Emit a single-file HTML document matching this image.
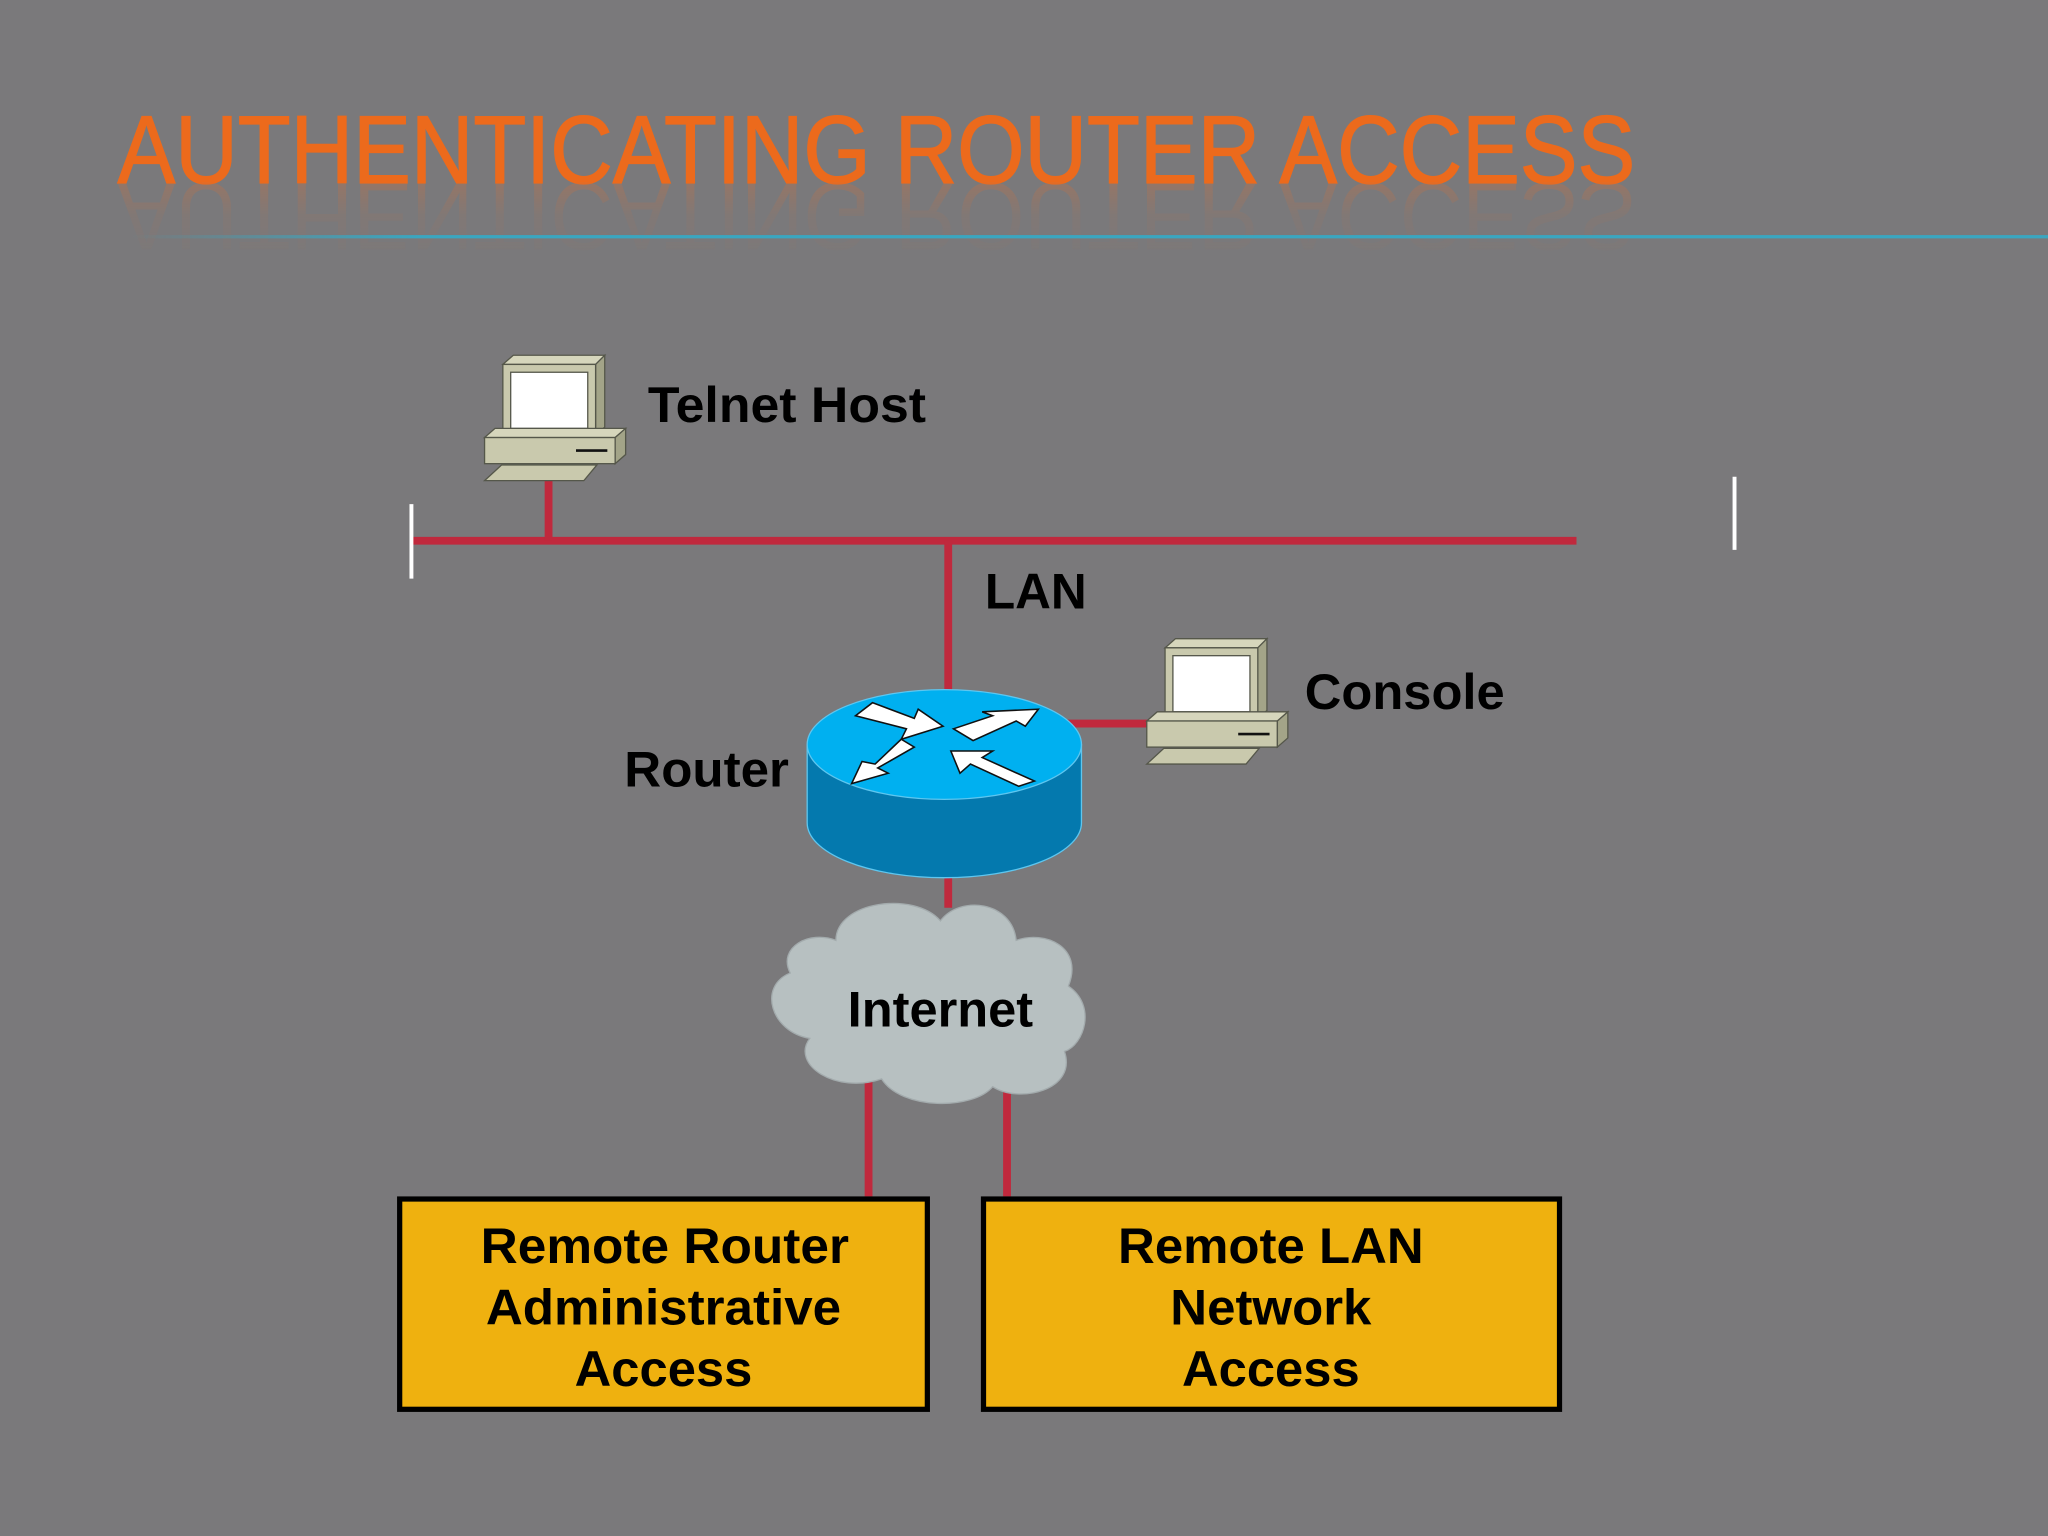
<!DOCTYPE html>
<html><head><meta charset="utf-8"><style>
html,body{margin:0;padding:0;background:#7a797b;}
svg{display:block;}
</style></head><body>
<svg width="2048" height="1536" viewBox="0 0 1568 1176" xmlns="http://www.w3.org/2000/svg">
<defs>
<linearGradient id="refl" x1="0" y1="0" x2="0" y2="1">
<stop offset="0" stop-color="#d2703a" stop-opacity="0"/><stop offset="0.5" stop-color="#d2703a" stop-opacity="0.15"/><stop offset="1" stop-color="#d2703a" stop-opacity="0.8"/></linearGradient>
<linearGradient id="teal" x1="0" y1="0" x2="1" y2="0">
<stop offset="0" stop-color="#3aa6c0" stop-opacity="0"/><stop offset="0.15" stop-color="#3aa6c0"/><stop offset="1" stop-color="#3aa6c0"/></linearGradient>
<g id="pc" stroke="#55574a" stroke-width="1">
<polygon points="14,8 22,1 92,1 85,8" fill="#d6d6bc"/>
<polygon points="85,8 92,1 92,56 85,62" fill="#a3a488"/>
<rect x="14" y="8" width="71" height="54" fill="#c9c9ad"/>
<rect x="20" y="14" width="59" height="43" fill="#ffffff"/>
<polygon points="0,64 8,57 108,57 100,64" fill="#d6d6bc"/>
<rect x="0" y="64" width="100" height="20" fill="#c9c9ad"/>
<polygon points="100,64 108,57 108,77 100,84" fill="#a3a488"/>
<line x1="70" y1="74" x2="94" y2="74" stroke="#111" stroke-width="2"/>
<polygon points="0,97 13,85 86,85 76,97" fill="#c9c9ad"/>
</g>
</defs>
<rect width="1568" height="1176" fill="#7a797b"/>
<!-- title -->
<text x="90" y="140" font-family="Liberation Sans, sans-serif" font-size="74" fill="#ec6a1c" stroke="#ec6a1c" stroke-width="1" textLength="1162" lengthAdjust="spacingAndGlyphs">AUTHENTICATING ROUTER ACCESS</text>
<g transform="translate(0,280) scale(1,-1)">
<text x="90" y="140" font-family="Liberation Sans, sans-serif" font-size="74" fill="url(#refl)" textLength="1162" lengthAdjust="spacingAndGlyphs" opacity="0.55">AUTHENTICATING ROUTER ACCESS</text>
</g>
<rect x="100" y="180" width="1468" height="2.5" fill="url(#teal)"/>
<!-- lines -->
<g stroke="#c0293d" stroke-width="6" fill="none">
<line x1="315" y1="414" x2="1207" y2="414"/>
<line x1="420" y1="365" x2="420" y2="414"/>
<line x1="726" y1="414" x2="726" y2="535"/>
<line x1="815" y1="554" x2="882" y2="554"/>
<line x1="726" y1="668" x2="726" y2="695"/>
<line x1="665" y1="820" x2="665" y2="916"/>
<line x1="771" y1="826" x2="771" y2="916"/>
</g>
<line x1="315" y1="386" x2="315" y2="443" stroke="#fff" stroke-width="3"/>
<line x1="1328" y1="365" x2="1328" y2="421" stroke="#fff" stroke-width="3"/>
<!-- computers -->
<use href="#pc" transform="translate(371,271)"/>
<use href="#pc" transform="translate(878,488)"/>
<!-- router -->
<g>
<path d="M618,570 L618,630 A105,42 0 0 0 828,630 L828,570 Z" fill="#0479ae" stroke="#5ec6ef" stroke-width="1"/>
<ellipse cx="723" cy="570" rx="105" ry="42" fill="#00b0f0" stroke="#5ec6ef" stroke-width="1"/>
<g fill="#fff" stroke="#111" stroke-width="1.2">
<polygon points="655,548 668,538 700,550 703,543 722,556 690,566 694,558"/>
<polygon points="730,558 760,548 752,545 795,543 785,556 778,552 745,567"/>
<polygon points="690,566 700,572 672,588 680,592 652,600 660,583 670,585"/>
<polygon points="728,575 760,575 752,580 792,598 780,602 743,585 735,592"/>
</g>
</g>
<!-- cloud -->
<g fill="#b7c0c1" stroke="#a3abad" stroke-width="1">
<path d="M640,720 C640,690 700,682 720,705 C735,685 775,690 778,720 C800,712 830,725 818,755 C840,770 830,800 815,805 C825,835 780,845 760,832 C745,850 690,850 675,826 C640,838 605,815 620,795 C590,790 580,755 605,745 C595,725 620,712 640,720 Z"/>
</g>
<!-- labels -->
<g font-family="Liberation Sans, sans-serif" font-weight="bold" fill="#000">
<text x="496" y="323" font-size="38" textLength="213" lengthAdjust="spacingAndGlyphs">Telnet Host</text>
<text x="754" y="466" font-size="38" textLength="78" lengthAdjust="spacingAndGlyphs">LAN</text>
<text x="999" y="543" font-size="38" textLength="153" lengthAdjust="spacingAndGlyphs">Console</text>
<text x="478" y="602" font-size="38" textLength="126" lengthAdjust="spacingAndGlyphs">Router</text>
<text x="649" y="786" font-size="38" textLength="142" lengthAdjust="spacingAndGlyphs">Internet</text>
</g>
<!-- boxes -->
<rect x="306" y="918" width="404" height="161" fill="#efb10f" stroke="#000" stroke-width="4"/>
<rect x="753" y="918" width="441" height="161" fill="#efb10f" stroke="#000" stroke-width="4"/>
<g font-family="Liberation Sans, sans-serif" font-weight="bold" fill="#000" font-size="38" text-anchor="middle">
<text x="509" y="967" textLength="282" lengthAdjust="spacingAndGlyphs">Remote Router</text>
<text x="508" y="1014" textLength="272" lengthAdjust="spacingAndGlyphs">Administrative</text>
<text x="508" y="1061" textLength="136" lengthAdjust="spacingAndGlyphs">Access</text>
<text x="973" y="967" textLength="234" lengthAdjust="spacingAndGlyphs">Remote LAN</text>
<text x="973" y="1014" textLength="154" lengthAdjust="spacingAndGlyphs">Network</text>
<text x="973" y="1061" textLength="136" lengthAdjust="spacingAndGlyphs">Access</text>
</g>
</svg>
</body></html>
